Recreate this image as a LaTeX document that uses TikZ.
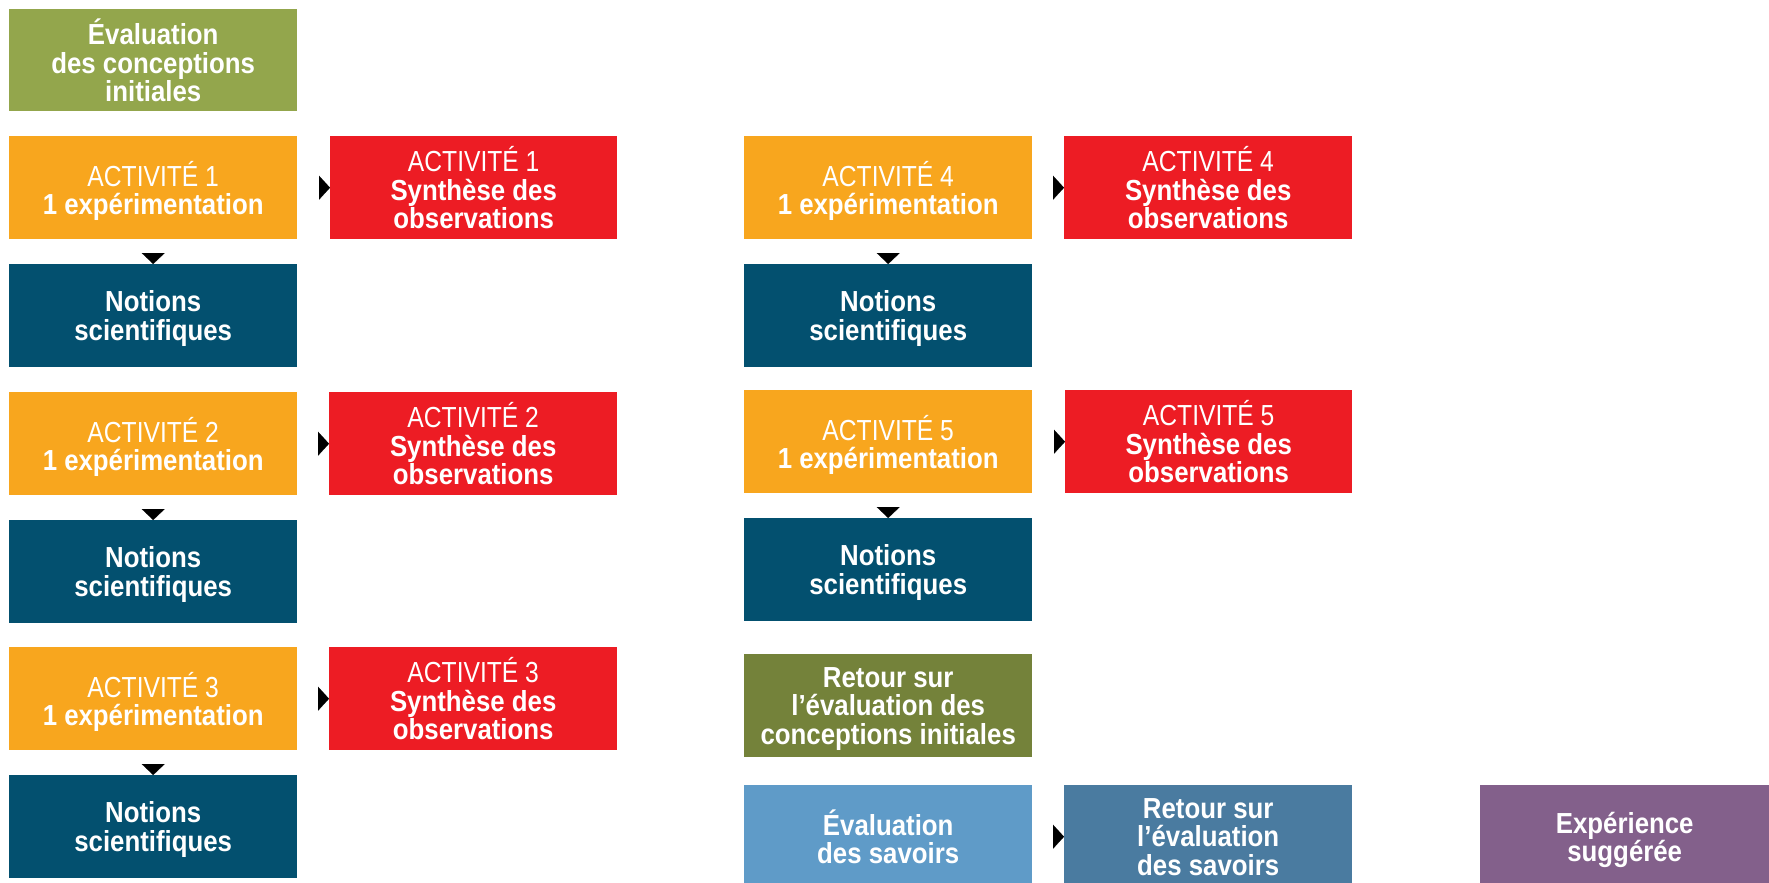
\documentclass[tikz,border=0pt]{standalone}
\usepackage{fontspec}
\setmainfont{Liberation Sans}
\newfontfamily\boldcond{Liberation Sans}[FakeStretch=0.89]
\newfontfamily\lightcond{Liberation Sans}[FakeStretch=0.85]
\usetikzlibrary{arrows.meta}

\definecolor{evalgreen}{HTML}{93A64C}
\definecolor{actorange}{HTML}{F8A61E}
\definecolor{synred}{HTML}{ED1C24}
\definecolor{notionblue}{HTML}{03506F}
\definecolor{retourolive}{HTML}{74823A}
\definecolor{savoirblue}{HTML}{5F9BC8}
\definecolor{retourblue}{HTML}{4A7BA0}
\definecolor{expurple}{HTML}{83608B}

% keep a fixed baseline distance between label lines
\setlength{\lineskiplimit}{-20pt}

% light first line of an activity label
\newcommand\actline[1]{{\lightcond\mdseries ACTIVITÉ #1}}

\begin{document}
\begin{tikzpicture}[x=1pt,y=-1pt,
  box/.style={anchor=north west, minimum width=288pt, minimum height=103pt,
    inner sep=0pt, text=white, align=center, text depth=0pt,
    font=\boldcond\bfseries\fontsize{29}{28.5}\selectfont},
  tipr/.style={-{Triangle[length=11pt,width=24pt]}, line width=0.1pt},
  tipd/.style={-{Triangle[length=11pt,width=23pt]}, line width=0.1pt}]

\fill[white] (0,0) rectangle (1769,883);
\path[use as bounding box, clip] (0,0) rectangle (1769,883);

% first column
\node[box, fill=evalgreen, minimum height=102pt] (eval) at (9,9) {Évaluation\\des conceptions\\initiales};

\node[box, fill=actorange] (a1) at (9,136) {\actline{1}\\1 expérimentation};
\node[box, fill=synred, minimum width=287pt] (r1) at (330,136) {\actline{1}\\Synthèse des\\observations};
\node[box, fill=notionblue] (n1) at (9,264) {Notions\\scientifiques};

\node[box, fill=actorange] (a2) at (9,392) {\actline{2}\\1 expérimentation};
\node[box, fill=synred] (r2) at (329,392) {\actline{2}\\Synthèse des\\observations};
\node[box, fill=notionblue] (n2) at (9,520) {Notions\\scientifiques};

\node[box, fill=actorange] (a3) at (9,647) {\actline{3}\\1 expérimentation};
\node[box, fill=synred] (r3) at (329,647) {\actline{3}\\Synthèse des\\observations};
\node[box, fill=notionblue] (n3) at (9,775) {Notions\\scientifiques};

% second column
\node[box, fill=actorange] (a4) at (744,136) {\actline{4}\\1 expérimentation};
\node[box, fill=synred] (r4) at (1064,136) {\actline{4}\\Synthèse des\\observations};
\node[box, fill=notionblue] (n4) at (744,264) {Notions\\scientifiques};

\node[box, fill=actorange] (a5) at (744,390) {\actline{5}\\1 expérimentation};
\node[box, fill=synred, minimum width=287pt] (r5) at (1065,390) {\actline{5}\\Synthèse des\\observations};
\node[box, fill=notionblue] (n5) at (744,518) {Notions\\scientifiques};

\node[box, fill=retourolive] (ret) at (744,654) {Retour sur\\l’évaluation des\\conceptions initiales};

% bottom row
\node[box, fill=savoirblue] (sav) at (744,785) {Évaluation\\des savoirs};
\node[box, fill=retourblue] (rsav) at (1064,785) {Retour sur\\l’évaluation\\des savoirs};
\node[box, fill=expurple, minimum width=289pt] (exp) at (1480,785) {Expérience\\suggérée};

% connectors: only the arrowheads show in the gaps
\draw[tipr, shorten <=22pt] (a1.east) -- (r1.west);
\draw[tipr, shorten <=21pt] (a2.east) -- (r2.west);
\draw[tipr, shorten <=21pt] (a3.east) -- (r3.west);
\draw[tipr, shorten <=21pt] (a4.east) -- (r4.west);
\draw[tipr, shorten <=22pt] (a5.east) -- (r5.west);
\draw[tipr, shorten <=21pt] (sav.east) -- (rsav.west);

\draw[tipd, shorten <=14pt] (a1.south) -- (n1.north);
\draw[tipd, shorten <=14pt] (a2.south) -- (n2.north);
\draw[tipd, shorten <=14pt] (a3.south) -- (n3.north);
\draw[tipd, shorten <=14pt] (a4.south) -- (n4.north);
\draw[tipd, shorten <=14pt] (a5.south) -- (n5.north);
\end{tikzpicture}
\end{document}
